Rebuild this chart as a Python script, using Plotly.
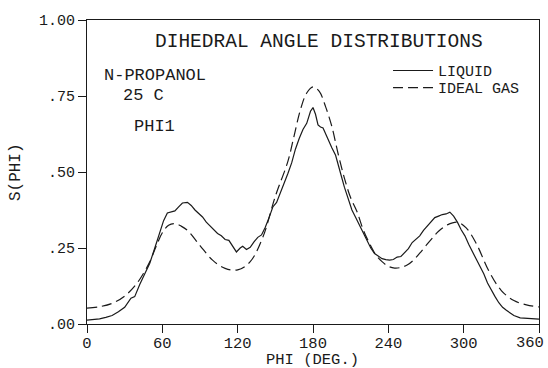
import plotly.graph_objects as go

# ---- data ----
phi_liquid = [0, 5, 10, 15, 20, 25, 30, 35, 38, 42, 46, 50, 54, 58, 61, 64, 67, 70, 73, 76,
              80, 83, 86, 89, 92, 95, 98, 101, 104, 107, 110, 113, 116, 119, 122, 124, 127, 130,
              133, 136, 139, 142, 145, 148, 151, 154, 157, 160, 163, 166, 169, 172, 175, 178,
              180, 182, 184, 186, 188, 190, 192, 195, 198, 200, 202, 205, 208, 211, 214, 217,
              220, 223, 226, 229, 232, 235, 238, 241, 244, 247, 250, 253, 256, 259, 262, 265,
              268, 271, 274, 277, 280, 283, 286, 289, 292, 295, 298, 301, 304, 307, 310, 313,
              316, 319, 322, 325, 328, 331, 334, 337, 340, 345, 350, 355, 360]
s_liquid = [0.013, 0.014, 0.017, 0.022, 0.028, 0.040, 0.055, 0.085, 0.090, 0.130, 0.165, 0.200,
            0.250, 0.300, 0.340, 0.365, 0.368, 0.372, 0.385, 0.398, 0.400, 0.390, 0.375, 0.362,
            0.352, 0.335, 0.322, 0.310, 0.298, 0.290, 0.278, 0.275, 0.255, 0.237, 0.250, 0.256,
            0.245, 0.252, 0.270, 0.285, 0.293, 0.318, 0.350, 0.385, 0.400, 0.430, 0.460, 0.495,
            0.530, 0.575, 0.610, 0.640, 0.660, 0.700, 0.712, 0.690, 0.655, 0.648, 0.645, 0.625,
            0.605, 0.580, 0.555, 0.520, 0.495, 0.450, 0.410, 0.375, 0.350, 0.325, 0.300, 0.275,
            0.250, 0.232, 0.222, 0.215, 0.212, 0.210, 0.212, 0.220, 0.222, 0.235, 0.248, 0.268,
            0.278, 0.290, 0.308, 0.322, 0.335, 0.350, 0.355, 0.360, 0.362, 0.368, 0.355, 0.335,
            0.310, 0.290, 0.262, 0.238, 0.215, 0.190, 0.165, 0.135, 0.110, 0.090, 0.070, 0.055,
            0.045, 0.035, 0.028, 0.020, 0.018, 0.017, 0.016]

phi_gas = [0, 10, 20, 30, 40, 50, 55, 60, 65, 70, 75, 80, 90, 100, 110, 120, 130, 140, 150,
           160, 165, 170, 175, 180, 185, 190, 195, 200, 205, 210, 215, 220, 225, 230, 235, 240,
           245, 250, 255, 260, 265, 270, 276, 280, 287, 295, 302, 310, 320, 330, 340, 350, 360]
s_gas = [0.052, 0.057, 0.068, 0.092, 0.135, 0.205, 0.255, 0.300, 0.325, 0.330, 0.322, 0.308,
         0.258, 0.210, 0.183, 0.178, 0.205, 0.285, 0.420, 0.535, 0.620, 0.705, 0.760, 0.780,
         0.765, 0.715, 0.650, 0.560, 0.480, 0.415, 0.370, 0.310, 0.265, 0.228, 0.205, 0.190,
         0.184, 0.186, 0.194, 0.210, 0.233, 0.258, 0.287, 0.305, 0.326, 0.335, 0.316, 0.265,
         0.175, 0.110, 0.077, 0.063, 0.056]

x_ticks = [0, 60, 120, 180, 240, 300, 360]
x_ticklabels = ["0", "60", "120", "180", "240", "300", "360"]
y_ticks = [0, 0.25, 0.5, 0.75, 1.0]
y_ticklabels = [".00", ".25", ".50", ".75", "1.00"]

FONT = "Liberation Mono"
INK = "#1a1a1a"

fig = go.Figure()
fig.add_trace(go.Scatter(x=phi_liquid, y=s_liquid, mode="lines", name="LIQUID", showlegend=True,
                         line=dict(color=INK, width=1.2), legend="legend"))
fig.add_trace(go.Scatter(x=phi_gas, y=s_gas, mode="lines", name="IDEAL GAS", line_shape="spline",
                         showlegend=True,
                         line=dict(color=INK, width=1.2, dash="10px,5px"), legend="legend2"))

legend_common = dict(font=dict(family=FONT, size=15, color=INK), bgcolor="rgba(0,0,0,0)",
                     borderwidth=0, xanchor="left", yanchor="middle", itemwidth=40)

# the last tick label sits inside the page edge, as in the original plot
axis_labels = x_ticklabels[:-1] + [""]
last_label = dict(text=x_ticklabels[-1], xref="x", yref="paper", x=x_ticks[-1], y=-0.063,
                  xanchor="right", yanchor="middle", xshift=7, showarrow=False,
                  font=dict(family=FONT, size=15.5, color=INK))

fig.update_layout(
    width=548, height=368,
    margin=dict(l=87, r=9, t=20, b=44),
    paper_bgcolor="white", plot_bgcolor="white",
    showlegend=True,
    font=dict(family=FONT, color=INK),
    legend=dict(x=0.666, y=0.833, **legend_common),
    legend2=dict(x=0.666, y=0.777, **legend_common),
    xaxis=dict(range=[0, 360], tickvals=x_ticks, ticktext=axis_labels,
               ticks="outside", ticklen=8, tickcolor=INK, tickwidth=1,
               showline=True, linecolor=INK, linewidth=1, mirror=True,
               showgrid=False, zeroline=False,
               ticklabelstandoff=-4, automargin=False,
               tickfont=dict(family=FONT, size=15.5, color=INK)),
    yaxis=dict(range=[0, 1.0], tickvals=y_ticks, ticktext=y_ticklabels,
               ticks="outside", ticklen=8, tickcolor=INK, tickwidth=1,
               showline=True, linecolor=INK, linewidth=1, mirror=True,
               showgrid=False, zeroline=False, ticklabelstandoff=0, automargin=False,
               tickfont=dict(family=FONT, size=15, color=INK)),
    annotations=[
        last_label,
        dict(text="DIHEDRAL ANGLE DISTRIBUTIONS", xref="paper", yref="paper", x=0.513, y=0.928,
             xanchor="center", yanchor="middle", showarrow=False,
             font=dict(family=FONT, size=19.5, color=INK)),
        dict(text="N-PROPANOL", xref="paper", yref="paper", x=0.033, y=0.819,
             xanchor="left", yanchor="middle", showarrow=False,
             font=dict(family=FONT, size=17, color=INK)),
        dict(text="25 C", xref="paper", yref="paper", x=0.075, y=0.753,
             xanchor="left", yanchor="middle", showarrow=False,
             font=dict(family=FONT, size=17, color=INK)),
        dict(text="PHI1", xref="paper", yref="paper", x=0.100, y=0.651,
             xanchor="left", yanchor="middle", showarrow=False,
             font=dict(family=FONT, size=17, color=INK)),
        dict(text="PHI (DEG.)", xref="paper", yref="paper", x=0.498, y=-0.118,
             xanchor="center", yanchor="middle", showarrow=False,
             font=dict(family=FONT, size=15.5, color=INK)),
        dict(text="S(PHI)", xref="paper", yref="paper", x=-0.157, y=0.5,
             xanchor="center", yanchor="middle", showarrow=False, textangle=-90,
             font=dict(family=FONT, size=16, color=INK)),
    ],
)

fig.write_html("out.html")
